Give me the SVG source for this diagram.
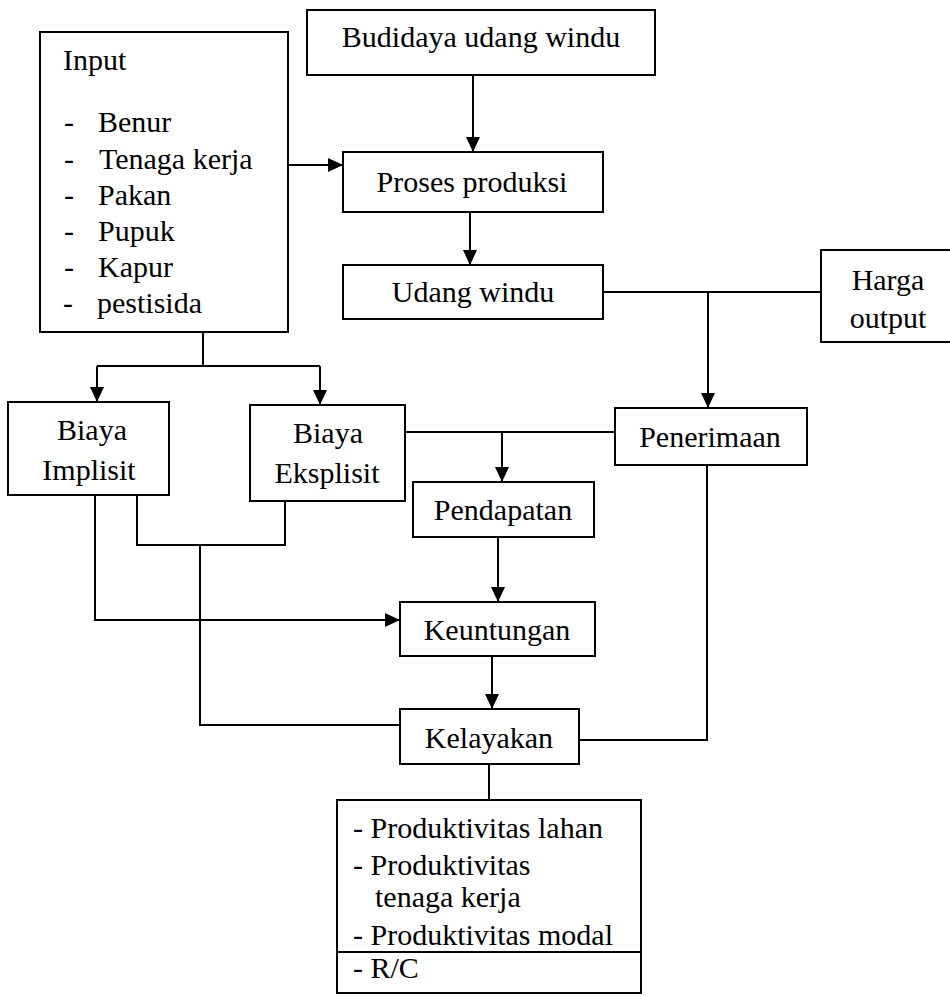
<svg xmlns="http://www.w3.org/2000/svg" width="950" height="996" viewBox="0 0 950 996">
<style>
  .box { fill: #fff; stroke: #000; stroke-width: 2; }
  .t { font-family: "Liberation Serif", "Times New Roman", serif; font-size: 30px; fill: #000; }
  .c { text-anchor: middle; }
  .ln { fill: none; stroke: #000; stroke-width: 2; }
</style>
<defs>
  <marker id="arr" markerUnits="userSpaceOnUse" markerWidth="16" markerHeight="14" refX="15" refY="7" orient="auto">
    <path d="M0,0 L15,7 L0,14 z" fill="#000"/>
  </marker>
</defs>
<rect width="950" height="996" fill="#fff"/>

<g id="connectors">
  <path class="ln" d="M473,75 V152" marker-end="url(#arr)"/>
  <path class="ln" d="M288,165 H343" marker-end="url(#arr)"/>
  <path class="ln" d="M470,212 V265" marker-end="url(#arr)"/>
  <path class="ln" d="M603,292 H821"/>
  <path class="ln" d="M708,292 V408" marker-end="url(#arr)"/>
  <path class="ln" d="M203,332 V366 M97,366 H320"/>
  <path class="ln" d="M97,366 V402" marker-end="url(#arr)"/>
  <path class="ln" d="M320,366 V405" marker-end="url(#arr)"/>
  <path class="ln" d="M405,432 H615"/>
  <path class="ln" d="M502,432 V482" marker-end="url(#arr)"/>
  <path class="ln" d="M498,537 V602" marker-end="url(#arr)"/>
  <path class="ln" d="M95,495 V620 H400" marker-end="url(#arr)"/>
  <path class="ln" d="M137,495 V545 H285 V501"/>
  <path class="ln" d="M200,545 V725 H400"/>
  <path class="ln" d="M492,656 V709" marker-end="url(#arr)"/>
  <path class="ln" d="M707,465 V740 H579"/>
  <path class="ln" d="M489,764 V800"/>
</g>

<g id="input">
  <rect class="box" x="40" y="32" width="248" height="300"/>
  <text class="t" x="63" y="70">Input</text>
  <text class="t" x="64" y="132">-</text><text class="t" x="98" y="132">Benur</text>
  <text class="t" x="64" y="169">-</text><text class="t" x="99" y="169">Tenaga kerja</text>
  <text class="t" x="64" y="205">-</text><text class="t" x="98" y="205">Pakan</text>
  <text class="t" x="64" y="241">-</text><text class="t" x="98" y="241">Pupuk</text>
  <text class="t" x="64" y="277">-</text><text class="t" x="98" y="277">Kapur</text>
  <text class="t" x="63" y="313">-</text><text class="t" x="97" y="313">pestisida</text>
</g>

<g id="budidaya">
  <rect class="box" x="307" y="10" width="348" height="65"/>
  <text class="t c" x="481" y="47">Budidaya udang windu</text>
</g>

<g id="proses">
  <rect class="box" x="343" y="152" width="260" height="60"/>
  <text class="t c" x="472" y="192">Proses produksi</text>
</g>

<g id="udang">
  <rect class="box" x="343" y="265" width="260" height="54"/>
  <text class="t c" x="473" y="302">Udang windu</text>
</g>

<g id="harga">
  <rect class="box" x="821" y="250" width="140" height="92"/>
  <text class="t c" x="888" y="290">Harga</text>
  <text class="t c" x="888" y="328">output</text>
</g>

<g id="implisit">
  <rect class="box" x="8" y="402" width="161" height="93"/>
  <text class="t c" x="92" y="440">Biaya</text>
  <text class="t c" x="89" y="480">Implisit</text>
</g>

<g id="eksplisit">
  <rect class="box" x="250" y="405" width="155" height="96"/>
  <text class="t c" x="328" y="443">Biaya</text>
  <text class="t c" x="327" y="483">Eksplisit</text>
</g>

<g id="penerimaan">
  <rect class="box" x="615" y="408" width="192" height="57"/>
  <text class="t c" x="710" y="447">Penerimaan</text>
</g>

<g id="pendapatan">
  <rect class="box" x="413" y="482" width="181" height="55"/>
  <text class="t c" x="503" y="520">Pendapatan</text>
</g>

<g id="keuntungan">
  <rect class="box" x="400" y="602" width="195" height="54"/>
  <text class="t c" x="497" y="640">Keuntungan</text>
</g>

<g id="kelayakan">
  <rect class="box" x="400" y="709" width="179" height="55"/>
  <text class="t c" x="489" y="748">Kelayakan</text>
</g>

<g id="indikator">
  <rect class="box" x="337" y="800" width="304" height="193"/>
  <line class="ln" x1="337" y1="952" x2="641" y2="952"/>
  <text class="t" x="353" y="838">- Produktivitas lahan</text>
  <text class="t" x="353" y="875">- Produktivitas</text>
  <text class="t" x="375" y="907">tenaga kerja</text>
  <text class="t" x="353" y="945">- Produktivitas modal</text>
  <text class="t" x="353" y="978">- R/C</text>
</g>
</svg>
